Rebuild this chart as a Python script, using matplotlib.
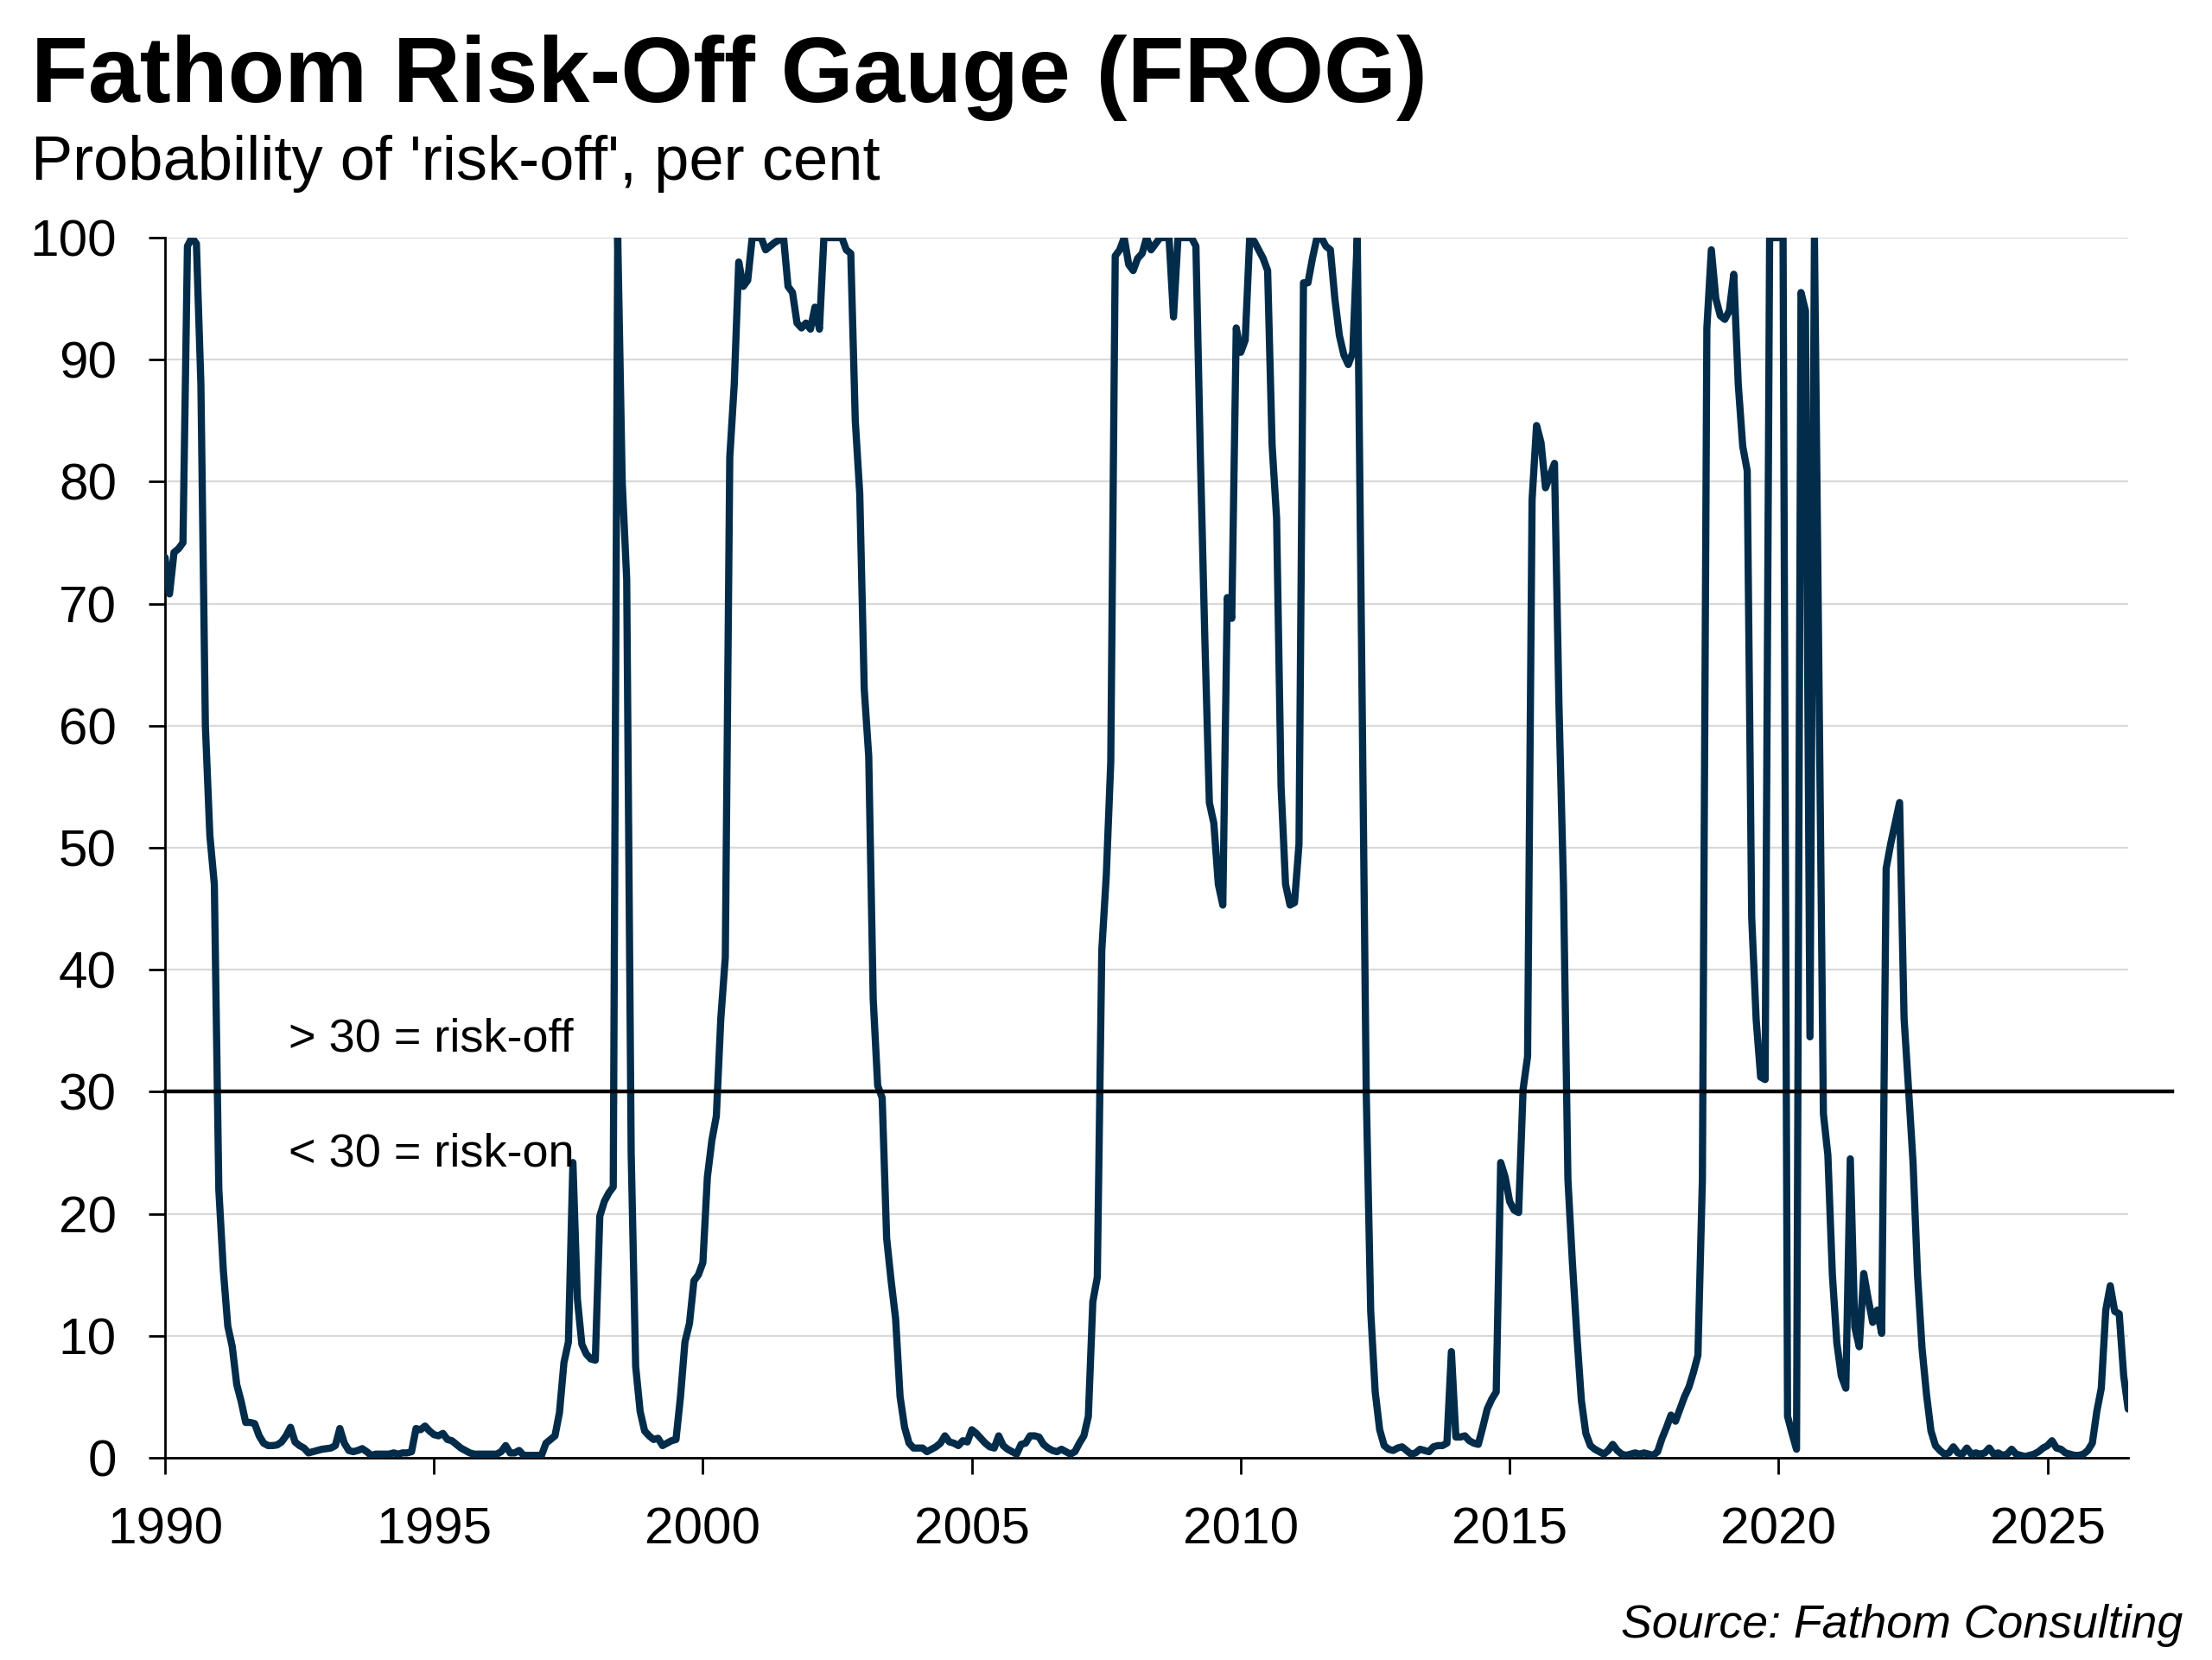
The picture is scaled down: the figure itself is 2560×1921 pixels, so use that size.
import numpy as np
import matplotlib
matplotlib.use("Agg")
import matplotlib.pyplot as plt
from matplotlib.lines import Line2D

# ---------------- data (monthly, Jan 1990 onwards) ----------------
frog_1990s = [
    73.8, 70.8, 74.2, 74.5, 75.0, 99.3, 100, 99.5, 88, 60, 51, 47,        # 1990
    22, 15.4, 10.8, 9.1, 6.0, 4.6, 2.9, 2.9, 2.8, 1.8, 1.2, 1.0,          # 1991
    1.0, 1.05, 1.3, 1.8, 2.5, 1.3, 1.0, 0.8, 0.4, 0.5, 0.6, 0.7,          # 1992
    0.75, 0.8, 1.0, 2.4, 1.2, 0.6, 0.5, 0.6, 0.75, 0.5, 0.2, 0.3,         # 1993
    0.3, 0.3, 0.3, 0.4, 0.3, 0.4, 0.4, 0.5, 2.4, 2.3, 2.6, 2.2,           # 1994
    1.9, 1.8, 2.0, 1.5, 1.4, 1.1, 0.8, 0.6, 0.4, 0.3, 0.3, 0.3,           # 1995
    0.3, 0.3, 0.3, 0.5, 1.0, 0.4, 0.4, 0.6, 0.2, 0.2, 0.2, 0.2,           # 1996
    0.2, 1.2, 1.5, 1.8, 3.7, 7.8, 9.5, 24.2, 13, 9.3, 8.5, 8.1,           # 1997
    8.0, 19.8, 21.0, 21.7, 22.2, 100, 80, 72, 25, 7.5, 3.8, 2.2,          # 1998
    1.8, 1.5, 1.6, 1.0, 1.2, 1.4, 1.5, 5.0, 9.5, 11, 14.5, 15,            # 1999
]
frog_2000s = [
    16, 23, 26, 28, 36, 41, 82, 88, 98, 96, 96.5, 100,                    # 2000
    100, 100, 99, 99.3, 99.6, 99.8, 100, 96, 95.5, 93, 92.6, 93,          # 2001
    92.5, 94.3, 92.5, 100, 100, 100, 100, 100, 99, 98.7, 85, 79,          # 2002
    63, 57.5, 37.6, 30.5, 29.5, 18, 14.5, 11.4, 5.0, 2.5, 1.2, 0.8,       # 2003
    0.8, 0.8, 0.5, 0.7, 0.9, 1.2, 1.8, 1.3, 1.2, 1.0, 1.4, 1.3,           # 2004
    2.3, 2.0, 1.6, 1.2, 0.9, 0.8, 1.8, 1.0, 0.7, 0.5, 0.3, 1.1,           # 2005
    1.2, 1.8, 1.8, 1.7, 1.1, 0.8, 0.6, 0.5, 0.7, 0.5, 0.3, 0.5,           # 2006
    1.2, 1.8, 3.4, 12.8, 14.8, 41.6, 47.7, 57, 98.5, 99, 100, 97.8,       # 2007
    97.3, 98.3, 98.7, 100, 99, 99.5, 100, 100, 100, 93.5, 100, 100,       # 2008
    100, 100, 99.3, 82, 67, 53.7, 52, 47, 45.3, 70.5, 68.8, 92.6,         # 2009
]
frog_2010s = [
    90.6, 91.6, 100, 99.7, 99, 98.3, 97.3, 83, 77, 55, 47, 45.3,          # 2010
    45.5, 50.3, 96.3, 96.3, 98.3, 100, 100, 99.3, 99, 95, 92, 90.4,       # 2011
    89.6, 90.6, 100, 65, 30, 12, 5.4, 2.3, 1.0, 0.7, 0.6, 0.8,            # 2012
    0.9, 0.6, 0.3, 0.4, 0.7, 0.6, 0.5, 0.9, 1.0, 1.0, 1.2, 8.7,           # 2013
    1.7, 1.7, 1.8, 1.4, 1.2, 1.1, 2.5, 4.0, 4.8, 5.4, 24.2, 23.0,         # 2014
    21.0, 20.3, 20.1, 30.2, 32.9, 78.5, 84.6, 83.2, 79.5, 80.5, 81.5, 61.7,  # 2015
    47, 22.8, 16, 10, 4.7, 2.0, 1.0, 0.7, 0.5, 0.3, 0.6, 1.1,             # 2016
    0.6, 0.3, 0.2, 0.3, 0.4, 0.3, 0.4, 0.3, 0.2, 0.5, 1.6, 2.5,           # 2017
    3.5, 3.0, 4.0, 5.0, 5.8, 7.0, 8.4, 22.8, 92.6, 99, 95, 93.6,          # 2018
    93.3, 94, 97, 88, 82.9, 80.9, 44.3, 35.9, 31.2, 31.0, 100, 100,       # 2019
]
frog_2020s = [
    100, 100, 3.4, 2.0, 0.7, 95.5, 94, 34.5, 100, 64, 28.2, 24.8,         # 2020
    15, 9.4, 6.7, 5.7, 24.5, 10.7, 9.1, 15.1, 13, 11.1, 12.1, 10.2,       # 2021
    48.3, 50.3, 52, 53.7, 36, 30.2, 24.2, 15, 9, 5.2, 2.2, 1.0,           # 2022
    0.6, 0.3, 0.4, 0.9, 0.4, 0.3, 0.8, 0.3, 0.4, 0.3, 0.4, 0.8,           # 2023
    0.3, 0.4, 0.2, 0.3, 0.7, 0.3, 0.2, 0.1, 0.2, 0.3, 0.5, 0.8,           # 2024
    1.0, 1.4, 0.8, 0.7, 0.4, 0.3, 0.2, 0.2, 0.3, 0.6, 1.2, 3.8,           # 2025
    5.7, 12.1, 14.1, 12.0, 11.8, 6.7, 4.0,                                # 2026
]
start_year = 1990
threshold = 30
y_ticks = [0, 10, 20, 30, 40, 50, 60, 70, 80, 90, 100]
x_ticks = [1990, 1995, 2000, 2005, 2010, 2015, 2020, 2025]

title = "Fathom Risk-Off Gauge (FROG)"
subtitle = "Probability of 'risk-off', per cent"
source = "Source: Fathom Consulting"
label_off = "> 30 = risk-off"
label_on = "< 30 = risk-on"

values = np.array(frog_1990s + frog_2000s + frog_2010s + frog_2020s, dtype=float)
dates = start_year + np.arange(len(values)) / 12.0

# ---------------- figure ----------------
plt.rcParams['font.family'] = ['Liberation Sans', 'DejaVu Sans']
W, H = 2560, 1921
fig = plt.figure(figsize=(W / 200, H / 200), dpi=200)
fig.patch.set_facecolor('white')

left, right = 191 / W, 2463 / W
bottom, top = 1 - 1687 / H, 1 - 275 / H
ax = fig.add_axes([left, bottom, right - left, top - bottom])

navy = '#022C4A'
ax.plot(dates, values, color=navy, lw=3.0, solid_joinstyle='round',
        solid_capstyle='round', zorder=3)

ax.set_xlim(start_year, dates[-1])
ax.set_ylim(0, 100)
ax.set_yticks(y_ticks)
ax.set_xticks(x_ticks)
ax.yaxis.grid(True, color='#D9D9D9', lw=0.8)
ax.set_axisbelow(True)

for s in ['top', 'right']:
    ax.spines[s].set_visible(False)
for s in ['left', 'bottom']:
    ax.spines[s].set_linewidth(1.0)
    ax.spines[s].set_color('black')

ax.tick_params(axis='both', direction='out', length=6.7, width=1.0,
               pad=13.5, labelsize=21.7, colors='black')

# threshold line, extending a little beyond the plot area
xa = (2514 - 191) / (2463 - 191)
ax.add_line(Line2D([0, xa], [threshold, threshold], color='black', lw=1.6,
                   transform=ax.get_yaxis_transform(), clip_on=False, zorder=4))

ax.text(1992.3, 34.3, label_off, fontsize=19.5, va='center', ha='left')
ax.text(1992.3, 24.9, label_on, fontsize=19.5, va='center', ha='left')

fig.text(36 / W, 1 - 118 / H, title, fontsize=38.8, fontweight='bold',
         ha='left', va='baseline')
fig.text(36 / W, 1 - 208 / H, subtitle, fontsize=26, ha='left', va='baseline')
fig.text(2526 / W, 1 - 1895 / H, source, fontsize=19.3, style='italic',
         ha='right', va='baseline')

fig.savefig('out.png', dpi=200, facecolor='white')
